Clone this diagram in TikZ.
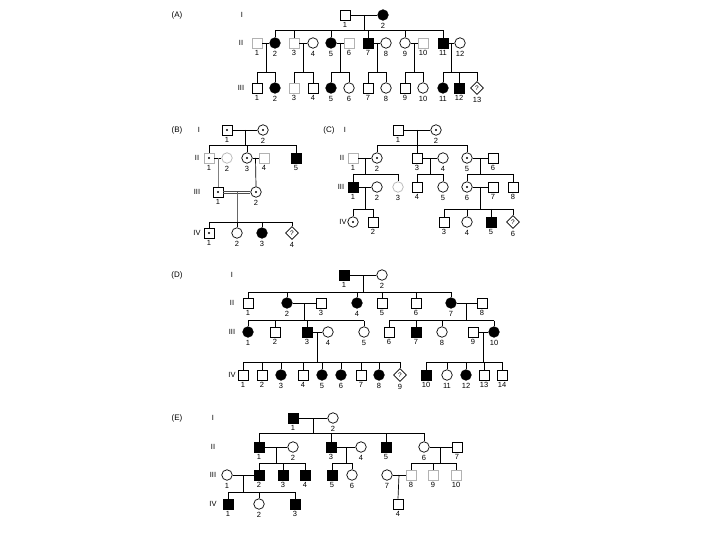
\documentclass[tikz,border=0pt]{standalone}
\usepackage{fontspec}
\setmainfont{Liberation Sans}
\usetikzlibrary{calc,shapes.geometric}
\tikzset{male/.style={rectangle,draw,minimum size=10pt,inner sep=0pt},female/.style={circle,draw,minimum size=10.5pt,inner sep=0pt},unk/.style={diamond,draw,minimum size=13pt,inner sep=0pt,font=\fontsize{6.5}{7}\selectfont},aff/.style={fill=black},carrier/.style={path picture={\fill (path picture bounding box.center) circle (1.2pt);}},faint/.style={draw=black!30},num/.style={font=\fontsize{7.5}{8}\selectfont,inner sep=2pt},lbl/.style={label={[num]below:#1}},gen/.style={font=\fontsize{7.5}{8}\selectfont},panel/.style={font=\fontsize{8}{9}\selectfont}}

\begin{document}
\begin{tikzpicture}[x=1pt,y=-1pt,line width=.7pt]
\useasboundingbox (0,0) rectangle (720,540);
% (A)
\node[panel](aT) at (177,15){(A)};
\node[gen](aG1) at (242,15){I};\node[gen](aG2) at (241,43){II};\node[gen](aG3) at (241,88){III};
\node[male,lbl=1](a1-1) at (345,15){};
\node[female,aff,lbl=2](a1-2) at (383,15){};
\node[male,faint,lbl=1](a2-1) at (257,43){};
\node[female,aff,lbl=2](a2-2) at (275,43){};
\node[male,faint,lbl=3](a2-3) at (294,43){};
\node[female,lbl=4](a2-4) at (313,43){};
\node[female,aff,lbl=5](a2-5) at (331,43){};
\node[male,faint,lbl=6](a2-6) at (349,43){};
\node[male,aff,lbl=7](a2-7) at (368,43){};
\node[female,lbl=8](a2-8) at (386,43){};
\node[female,lbl=9](a2-9) at (405,43){};
\node[male,faint,lbl=10](a2-10) at (423,43){};
\node[male,aff,lbl=11](a2-11) at (443,43){};
\node[female,lbl=12](a2-12) at (460,43){};
\node[male,lbl=1](a3-1) at (257,88){};
\node[female,aff,lbl=2](a3-2) at (275,88){};
\node[male,faint,lbl=3](a3-3) at (294,88){};
\node[male,lbl=4](a3-4) at (313,88){};
\node[female,aff,lbl=5](a3-5) at (331,88){};
\node[female,lbl=6](a3-6) at (349,88){};
\node[male,lbl=7](a3-7) at (368,88){};
\node[female,lbl=8](a3-8) at (386,88){};
\node[male,lbl=9](a3-9) at (405,88){};
\node[female,lbl=10](a3-10) at (423,88){};
\node[female,aff,lbl=11](a3-11) at (443,88){};
\node[male,aff,lbl=12](a3-12) at (459,88){};
\node[unk,lbl=13](a3-13) at (477,88){?};
\coordinate(aS2) at (0,30.5);\coordinate(aS3) at (0,72.5);
\draw(a1-1)--(a1-2);
\coordinate(am0) at ($(a1-1)!.5!(a1-2)$);
\draw(am0)--(am0|-aS2) (a2-2|-aS2)--(a2-11|-aS2);
\foreach \c in {a2-2,a2-3,a2-5,a2-7,a2-9,a2-11} \draw(\c|-aS2)--(\c.north);
\foreach \h/\w/\f/\l in {a2-1/a2-2/a3-1/a3-2,a2-3/a2-4/a3-3/a3-4,a2-5/a2-6/a3-5/a3-6,a2-7/a2-8/a3-7/a3-8,a2-9/a2-10/a3-9/a3-10,a2-11/a2-12/a3-11/a3-13}{
  \draw(\h)--(\w);
  \coordinate(m) at ($(\h)!.5!(\w)$);
  \draw(m)--(m|-aS3) (\f|-aS3)--(\l|-aS3);
}
\foreach \c in {a3-1,a3-2,a3-3,a3-4,a3-5,a3-6,a3-7,a3-8,a3-9,a3-10,a3-11,a3-12,a3-13} \draw(\c|-aS3)--(\c.north);
% (B)
\node[panel](bT) at (177,130){(B)};
\node[gen](bG1) at (199,130){I};\node[gen](bG2) at (197,158){II};\node[gen](bG3) at (197,192){III};\node[gen](bG4) at (197,233){IV};
\node[male,carrier,lbl=1](b1-1) at (227,130){};
\node[female,carrier,lbl=2](b1-2) at (263,130){};
\node[male,carrier,faint,lbl=1](b2-1) at (209,158){};
\node[female,faint,lbl=2](b2-2) at (227,158){};
\node[female,carrier,lbl=3](b2-3) at (247,158){};
\node[male,faint,lbl=4](b2-4) at (264,158){};
\node[male,aff,lbl=5](b2-5) at (296,158){};
\node[male,carrier,lbl=1](b3-1) at (218,192){};
\node[female,carrier,lbl=2](b3-2) at (256,192){};
\node[male,carrier,lbl=1](b4-1) at (209,233){};
\node[female,lbl=2](b4-2) at (237,233){};
\node[female,aff,lbl=3](b4-3) at (262,233){};
\node[unk,lbl=4](b4-4) at (292,233){?};
\coordinate(bS2) at (0,145.5);\coordinate(bS4) at (0,222);
\draw(b1-1)--(b1-2);
\coordinate(bm0) at ($(b1-1)!.5!(b1-2)$);
\draw(bm0)--(bm0|-bS2) (b2-1|-bS2)--(b2-5|-bS2);
\foreach \c in {b2-1,b2-3,b2-5} \draw(\c|-bS2)--(\c.north);
\draw(b2-1)--(b2-2) (b2-3)--(b2-4);
\coordinate(bm1) at ($(b2-1)!.5!(b2-2)$);\coordinate(bm2) at ($(b2-3)!.5!(b2-4)$);
\draw[black!50](bm1)--(b3-1.north);
\draw(bm2)--(b3-2.north);
% consanguineous mating
\draw[black!70,transform canvas={yshift=1.1pt}](b3-1)--(b3-2);
\draw[black!70,transform canvas={yshift=-1.1pt}](b3-1)--(b3-2);
\coordinate(bm3) at ($(b3-1)!.5!(b3-2)$);
\draw[black!60,line width=.9pt](bm3)--(bm3|-bS4);
\draw(b4-1|-bS4)--(b4-4|-bS4);
\foreach \c in {b4-1,b4-2,b4-3,b4-4} \draw(\c|-bS4)--(\c.north);
% (C)
\node[panel](cT) at (329,130){(C)};
\node[gen](cG1) at (345,130){I};\node[gen](cG2) at (342,158){II};\node[gen](cG3) at (341,187){III};\node[gen](cG4) at (343,222){IV};
\node[male,lbl=1](c1-1) at (398,130){};
\node[female,carrier,lbl=2](c1-2) at (436,130){};
\node[male,faint,lbl=1](c2-1) at (353,158){};
\node[female,carrier,lbl=2](c2-2) at (377,158){};
\node[male,lbl=3](c2-3) at (417,158){};
\node[female,lbl=4](c2-4) at (443,158){};
\node[female,carrier,lbl=5](c2-5) at (467,158){};
\node[male,lbl=6](c2-6) at (493,158){};
\node[male,aff,lbl=1](c3-1) at (353,187){};
\node[female,lbl=2](c3-2) at (377,187){};
\node[female,faint,lbl=3](c3-3) at (398,187){};
\node[male,lbl=4](c3-4) at (417,187){};
\node[female,lbl=5](c3-5) at (443,187){};
\node[female,carrier,lbl=6](c3-6) at (467,187){};
\node[male,lbl=7](c3-7) at (493,187){};
\node[male,lbl=8](c3-8) at (513,187){};
\node[female,carrier](c4-1) at (353,222){};
\node[male,lbl=2](c4-2) at (373,222){};
\node[male,lbl=3](c4-3) at (444,222){};
\node[female,lbl=4](c4-4) at (467,222){};
\node[male,aff,lbl=5](c4-5) at (491,222){};
\node[unk,lbl=6](c4-6) at (513,222){?};
\coordinate(cS2) at (0,145.5);\coordinate(cS3) at (0,174);\coordinate(cS4) at (0,209);
\draw(c1-1)--(c1-2);
\coordinate(cm0) at ($(c1-1)!.5!(c1-2)$);
\draw(cm0)--(cm0|-cS2) (c2-2|-cS2)--(c2-5|-cS2);
\foreach \c in {c2-2,c2-3,c2-5} \draw(\c|-cS2)--(\c.north);
\foreach \h/\w/\f/\l/\s in {c2-1/c2-2/c3-1/c3-3/cS3,c2-3/c2-4/c3-4/c3-5/cS3,c2-5/c2-6/c3-6/c3-8/cS3,c3-1/c3-2/c4-1/c4-2/cS4,c3-6/c3-7/c4-3/c4-6/cS4}{
  \draw(\h)--(\w);
  \coordinate(m) at ($(\h)!.5!(\w)$);
  \draw(m)--(m|-\s) (\f|-\s)--(\l|-\s);
}
\foreach \c in {c3-1,c3-3,c3-4,c3-5,c3-6,c3-8} \draw(\c|-cS3)--(\c.north);
\foreach \c in {c4-1,c4-2,c4-3,c4-4,c4-5,c4-6} \draw(\c|-cS4)--(\c.north);
% (D)
\node[panel](dT) at (177,275){(D)};
\node[gen](dG1) at (232,275){I};\node[gen](dG2) at (232,303){II};\node[gen](dG3) at (232,332){III};\node[gen](dG4) at (232,375){IV};
\node[male,aff,lbl=1](d1-1) at (344,275){};
\node[female,lbl=2](d1-2) at (382,275){};
\node[male,lbl=1](d2-1) at (248,303){};
\node[female,aff,lbl=2](d2-2) at (287,303){};
\node[male,lbl=3](d2-3) at (321,303){};
\node[female,aff,lbl=4](d2-4) at (357,303){};
\node[male,lbl=5](d2-5) at (382,303){};
\node[male,lbl=6](d2-6) at (416,303){};
\node[female,aff,lbl=7](d2-7) at (451,303){};
\node[male,lbl=8](d2-8) at (482,303){};
\node[female,aff,lbl=1](d3-1) at (248,332){};
\node[male,lbl=2](d3-2) at (275,332){};
\node[male,aff,lbl=3](d3-3) at (307,332){};
\node[female,lbl=4](d3-4) at (328,332){};
\node[female,lbl=5](d3-5) at (364,332){};
\node[male,lbl=6](d3-6) at (389,332){};
\node[male,aff,lbl=7](d3-7) at (416,332){};
\node[female,lbl=8](d3-8) at (442,332){};
\node[male,lbl=9](d3-9) at (473,332){};
\node[female,aff,lbl=10](d3-10) at (494,332){};
\node[male,lbl=1](d4-1) at (243,375){};
\node[male,lbl=2](d4-2) at (262,375){};
\node[female,aff,lbl=3](d4-3) at (281,375){};
\node[male,lbl=4](d4-4) at (303,375){};
\node[female,aff,lbl=5](d4-5) at (322,375){};
\node[female,aff,lbl=6](d4-6) at (341,375){};
\node[male,lbl=7](d4-7) at (361,375){};
\node[female,aff,lbl=8](d4-8) at (379,375){};
\node[unk,lbl=9](d4-9) at (400,375){?};
\node[male,aff,lbl=10](d4-10) at (426,375){};
\node[female,lbl=11](d4-11) at (447,375){};
\node[female,aff,lbl=12](d4-12) at (466,375){};
\node[male,lbl=13](d4-13) at (484,375){};
\node[male,lbl=14](d4-14) at (502,375){};
\coordinate(dS2) at (0,292);\coordinate(dS3) at (0,320.5);\coordinate(dS4) at (0,362);
\draw(d1-1)--(d1-2);
\coordinate(dm0) at ($(d1-1)!.5!(d1-2)$);
\draw(dm0)--(dm0|-dS2) (d2-1|-dS2)--(d2-7|-dS2);
\foreach \c in {d2-1,d2-2,d2-4,d2-5,d2-6,d2-7} \draw(\c|-dS2)--(\c.north);
\foreach \h/\w/\f/\l/\s in {d2-2/d2-3/d3-1/d3-5/dS3,d2-7/d2-8/d3-6/d3-10/dS3,d3-3/d3-4/d4-1/d4-9/dS4,d3-9/d3-10/d4-10/d4-14/dS4}{
  \draw(\h)--(\w);
  \coordinate(m) at ($(\h)!.5!(\w)$);
  \draw(m)--(m|-\s) (\f|-\s)--(\l|-\s);
}
\foreach \c in {d3-1,d3-2,d3-3,d3-5,d3-6,d3-7,d3-8,d3-10} \draw(\c|-dS3)--(\c.north);
\foreach \c in {d4-1,d4-2,d4-3,d4-4,d4-5,d4-6,d4-7,d4-8,d4-9,d4-10,d4-11,d4-12,d4-13,d4-14} \draw(\c|-dS4)--(\c.north);
% (E)
\node[panel](eT) at (177,418){(E)};
\node[gen](eG1) at (213,418){I};\node[gen](eG2) at (213,447){II};\node[gen](eG3) at (213,475){III};\node[gen](eG4) at (213,504){IV};
\node[male,aff,lbl=1](e1-1) at (293,418){};
\node[female,lbl=2](e1-2) at (333,418){};
\node[male,aff,lbl=1](e2-1) at (259,447){};
\node[female,lbl=2](e2-2) at (293,447){};
\node[male,aff,lbl=3](e2-3) at (331,447){};
\node[female,lbl=4](e2-4) at (361,447){};
\node[male,aff,lbl=5](e2-5) at (386,447){};
\node[female,lbl=6](e2-6) at (424,447){};
\node[male,lbl=7](e2-7) at (457,447){};
\node[female,lbl=1](e3-1) at (227,475){};
\node[male,aff,lbl=2](e3-2) at (259,475){};
\node[male,aff,lbl=3](e3-3) at (283,475){};
\node[male,aff,lbl=4](e3-4) at (305,475){};
\node[male,aff,lbl=5](e3-5) at (332,475){};
\node[female,lbl=6](e3-6) at (352,475){};
\node[female,lbl=7](e3-7) at (387,475){};
\node[male,faint,lbl=8](e3-8) at (411,475){};
\node[male,faint,lbl=9](e3-9) at (433,475){};
\node[male,faint,lbl=10](e3-10) at (456,475){};
\node[male,aff,lbl=1](e4-1) at (228,504){};
\node[female,lbl=2](e4-2) at (259,504){};
\node[male,aff,lbl=3](e4-3) at (295,504){};
\node[male,lbl=4](e4-4) at (398,504){};
\coordinate(eS2) at (0,433);\coordinate(eS3) at (0,463);\coordinate(eS4) at (0,492);
\draw(e1-1)--(e1-2);
\coordinate(em0) at ($(e1-1)!.5!(e1-2)$);
\draw(em0)--(em0|-eS2) (e2-1|-eS2)--(e2-6|-eS2);
\foreach \c in {e2-1,e2-3,e2-5,e2-6} \draw(\c|-eS2)--(\c.north);
\foreach \h/\w/\f/\l/\s in {e2-1/e2-2/e3-2/e3-4/eS3,e2-3/e2-4/e3-5/e3-6/eS3,e2-6/e2-7/e3-8/e3-10/eS3,e3-1/e3-2/e4-1/e4-3/eS4}{
  \draw(\h)--(\w);
  \coordinate(m) at ($(\h)!.5!(\w)$);
  \draw(m)--(m|-\s) (\f|-\s)--(\l|-\s);
}
\foreach \c in {e3-2,e3-3,e3-4,e3-5,e3-6,e3-8,e3-9,e3-10} \draw(\c|-eS3)--(\c.north);
\foreach \c in {e4-1,e4-2,e4-3} \draw(\c|-eS4)--(\c.north);
\draw(e3-7)--(e3-8);
\coordinate(em5) at ($(e3-7)!.5!(e3-8)$);
\draw(em5)--(e4-4.north);
\end{tikzpicture}
\end{document}
